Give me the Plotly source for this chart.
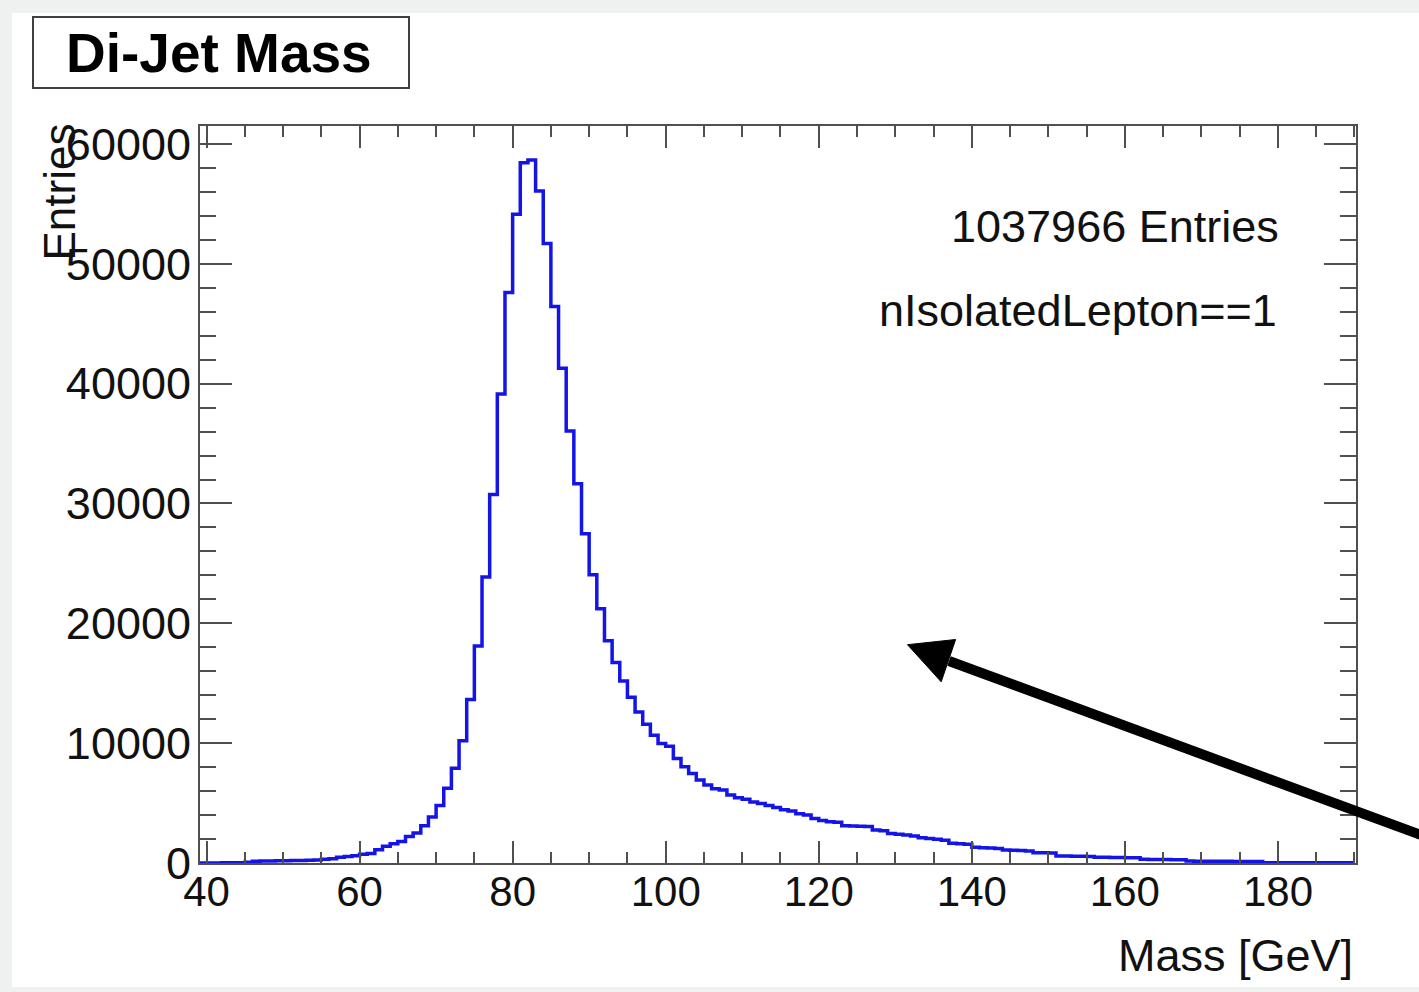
import plotly.graph_objects as go

# ---------------- data ----------------
bin_low_edges = list(range(39, 190))  # 1 GeV bins from 39 to 190
counts = [
    0,                                                  # 39
    10, 10, 15, 20, 30, 60,                             # 40-45
    150, 160, 170, 180, 190, 200, 215, 230, 260,        # 46-54
    320, 350, 480, 540, 600, 740, 800,                  # 55-61
    1100, 1390, 1610, 1800, 2220, 2500, 3110, 3830,     # 62-69
    4800, 6230, 7900, 10200, 13640, 18110, 23860,       # 70-76
    30750, 39140, 47610, 54140, 58440, 58670, 56080,    # 77-83
    51690, 46440, 41280, 36040, 31640, 27470, 24060,    # 84-90
    21220, 18540, 16730, 15180, 13840, 12600, 11580,    # 91-97
    10670, 9970, 9750, 8720, 8030, 7470, 6920,          # 98-104
    6500, 6200, 6100, 5670, 5450, 5310, 5100,           # 105-111
    4975, 4800, 4640, 4450, 4330, 4100, 4000,           # 112-118
    3720, 3550, 3440, 3400, 3100, 3080, 3060,           # 119-125
    3050, 2750, 2700, 2470, 2400, 2330, 2250,           # 126-132
    2100, 2050, 1980, 1900, 1640, 1600, 1560,           # 133-139
    1305, 1280, 1250, 1200, 1080, 1060, 1040,           # 140-146
    1000, 860, 850, 830, 580, 580, 570,                 # 147-153
    560, 550, 470, 470, 460, 450, 440,                  # 154-160
    430, 305, 300, 300, 290, 280, 270,                  # 161-167
    160, 155, 150, 150, 145, 140, 135,                  # 168-174
    130, 125, 120,                                      # 175-177
    25, 25, 25, 25, 25, 25, 25, 25, 25, 25, 25, 25,     # 178-189
]
x_tick_vals = [40, 60, 80, 100, 120, 140, 160, 180]
y_tick_vals = [0, 10000, 20000, 30000, 40000, 50000, 60000]
title_text = "Di-Jet Mass"
stats_lines = ["1037966 Entries", "nIsolatedLepton==1"]
x_title = "Mass [GeV]"
y_title = "Entries"

# ---------------- geometry helpers ----------------
W, H = 1419, 992
L, R, T, B = 200, 1356, 126, 863  # plot area in pixels


def px(x):
    return (x - L) / (R - L)


def py(y):
    return (B - y) / (B - T)


FONT = "Liberation Sans, Arial, Helvetica, sans-serif"
FRAME = "#505050"

edges = bin_low_edges + [bin_low_edges[-1] + 1]
yvals = counts + [counts[-1]]

fig = go.Figure()
fig.add_trace(go.Scatter(
    x=edges, y=yvals, mode="lines", line_shape="hv",
    line=dict(color="#1414e6", width=3.5), hoverinfo="skip", showlegend=False,
))

fig.update_layout(
    width=W, height=H,
    margin=dict(l=L, r=W - R, t=T, b=H - B, pad=0),
    paper_bgcolor="#eff1f1",
    plot_bgcolor="white",
    showlegend=False,
    font=dict(family=FONT, color="#111111"),
)

fig.update_xaxes(
    range=[39.15, 190.2], showgrid=False, zeroline=False,
    showline=True, linecolor=FRAME, linewidth=2, mirror="ticks",
    ticks="inside", ticklen=22, tickwidth=2, tickcolor=FRAME,
    tickvals=x_tick_vals, ticklabelstandoff=-9,
    tickfont=dict(size=42, family=FONT, color="#111111"),
    minor=dict(ticks="inside", ticklen=11, tickwidth=2, tickcolor=FRAME, dtick=5, showgrid=False),
)
fig.update_yaxes(
    range=[0, 61500], showgrid=False, zeroline=False,
    showline=True, linecolor=FRAME, linewidth=2, mirror="ticks",
    ticks="inside", ticklen=32, tickwidth=2, tickcolor=FRAME,
    tickvals=y_tick_vals, tickformat="d", ticklabelstandoff=-2,
    tickfont=dict(size=45, family=FONT, color="#111111"),
    minor=dict(ticks="inside", ticklen=16, tickwidth=2, tickcolor=FRAME, dtick=2000, showgrid=False),
)

shapes = []
# white canvas inside a light gray window border
shapes.append(dict(type="rect", xref="paper", yref="paper", layer="below",
                   x0=px(12), x1=px(1440), y0=py(987), y1=py(13),
                   fillcolor="white", line=dict(width=0)))
# title box
shapes.append(dict(type="rect", xref="paper", yref="paper", layer="above",
                   x0=px(33), x1=px(409), y0=py(88), y1=py(17),
                   fillcolor="white", line=dict(color="#404040", width=2)))
# arrow shaft
shapes.append(dict(type="line", xref="paper", yref="paper", layer="above",
                   x0=px(1440), y0=py(842), x1=px(949), y1=py(661),
                   line=dict(color="black", width=10)))
# arrow head
hx = [907.5, 955.6, 941.2]
hy = [644.7, 639.5, 681.8]
path = "M {} {} L {} {} L {} {} Z".format(px(hx[0]), py(hy[0]), px(hx[1]), py(hy[1]), px(hx[2]), py(hy[2]))
shapes.append(dict(type="path", xref="paper", yref="paper", layer="above",
                   path=path, fillcolor="black", line=dict(color="black", width=1)))
fig.update_layout(shapes=shapes)

ann = []
ann.append(dict(text=title_text, xref="paper", yref="paper", x=px(219), y=py(53),
                xanchor="center", yanchor="middle", showarrow=False,
                font=dict(size=55, family=FONT, color="black", weight="bold")))
ann.append(dict(text=stats_lines[0], xref="paper", yref="paper", x=px(1281), y=py(226),
                xanchor="right", yanchor="middle", showarrow=False,
                font=dict(size=45, family=FONT, color="#111111")))
ann.append(dict(text=stats_lines[1], xref="paper", yref="paper", x=px(1279), y=py(310),
                xanchor="right", yanchor="middle", showarrow=False,
                font=dict(size=45, family=FONT, color="#111111")))
ann.append(dict(text=x_title, xref="paper", yref="paper", x=px(1355), y=py(955),
                xanchor="right", yanchor="middle", showarrow=False,
                font=dict(size=45, family=FONT, color="#111111")))
ann.append(dict(text=y_title, xref="paper", yref="paper", x=px(59), y=py(122),
                xanchor="center", yanchor="top", textangle=-90, showarrow=False,
                font=dict(size=44, family=FONT, color="#111111")))
fig.update_layout(annotations=ann)

fig.write_html("out.html", config={"displayModeBar": False},
               post_script="document.body.style.margin='0px';")
